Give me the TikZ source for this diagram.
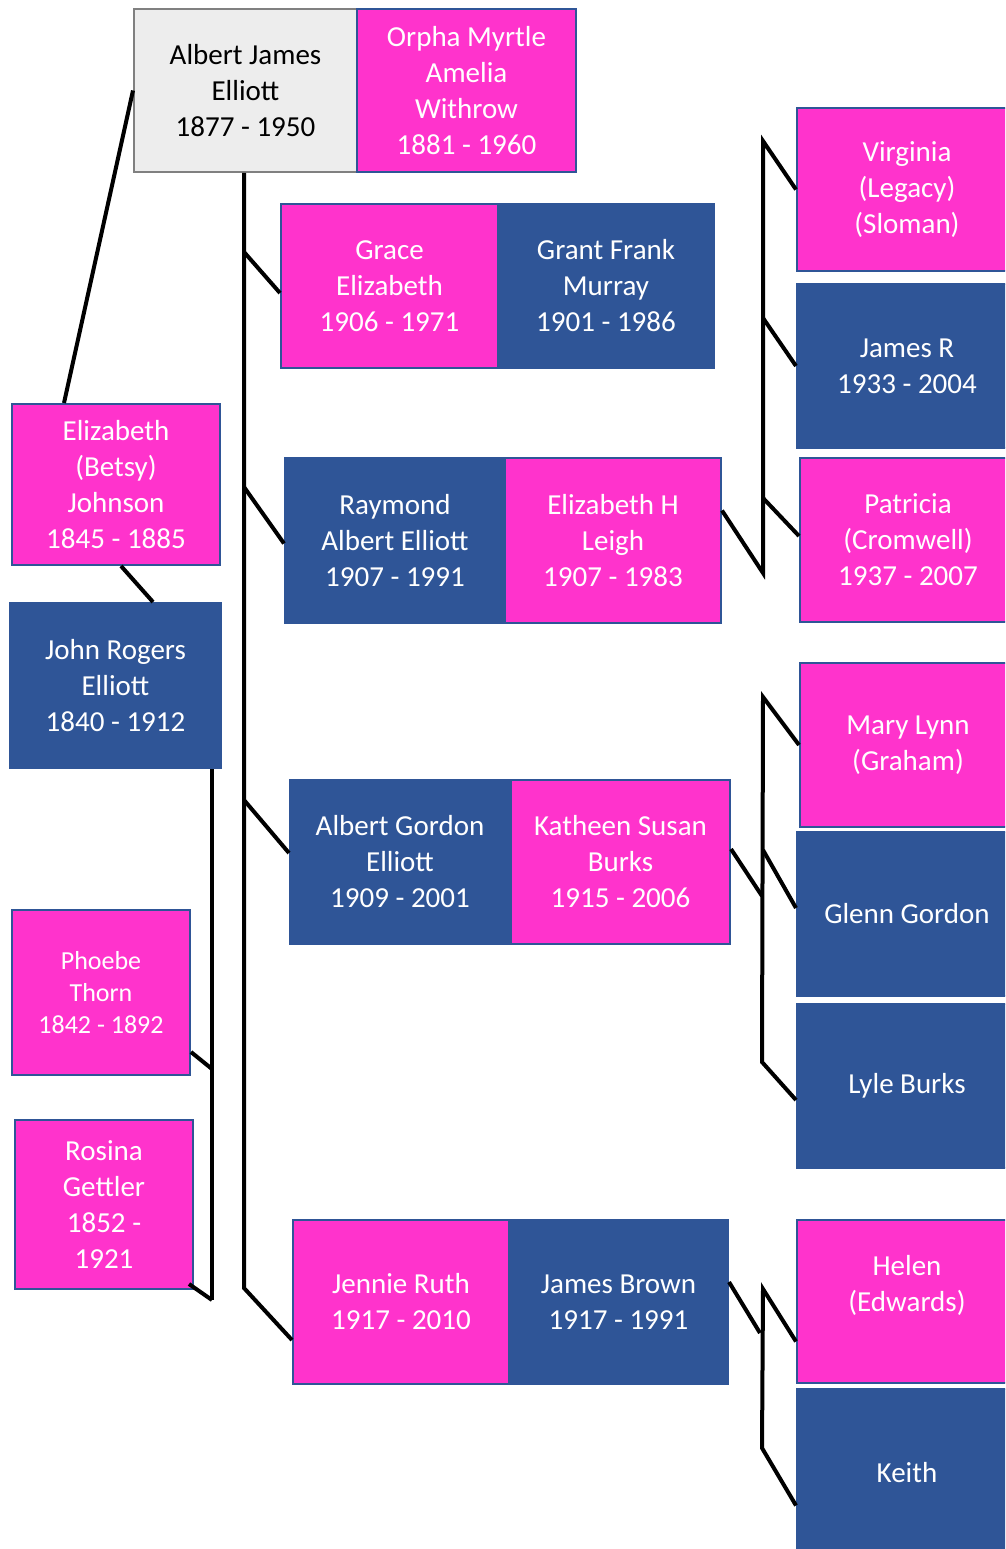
\documentclass[tikz,border=0pt]{standalone}
\usepackage{fontspec}
\setmainfont{Carlito}
\usetikzlibrary{calc}
\definecolor{pk}{HTML}{FF33CC}
\definecolor{bl}{HTML}{2F5597}
\definecolor{gy}{HTML}{EDEDED}
\definecolor{gyb}{HTML}{808080}
\tikzset{
  box/.style={rectangle, inner sep=0pt, align=center, text=white,
    font=\fontsize{29}{36}\selectfont, line width=2pt, draw=bl},
  pinkbox/.style={box, fill=pk},
  bluebox/.style={box, fill=bl},
  graybox/.style={box, fill=gy, draw=gyb, text=black},
  smalltxt/.style={font=\fontsize{26}{32}\selectfont},
  conn/.style={line width=4pt, draw=black},
  plain/.style={inner sep=0pt, align=center, text=white, font=\fontsize{29}{36}\selectfont}
}
\begin{document}
\begin{tikzpicture}[x=1pt,y=-1pt]
\useasboundingbox (0,0) rectangle (1005,1549);
\clip (0,0) rectangle (1005,1549);
\fill[white] (0,0) rectangle (1005,1549);

% top couple
\node[graybox, minimum width=223pt, minimum height=163pt] (albert) at (245.5,90.5) {Albert James\\Elliott\\1877 - 1950};
\node[pinkbox, minimum width=219pt, minimum height=163pt] (orpha) at (466.5,90.5) {Orpha Myrtle\\Amelia\\Withrow\\1881 - 1960};

% children couples
\node[pinkbox, minimum width=217pt, minimum height=164pt] (grace) at (389.5,286) {Grace\\Elizabeth\\1906 - 1971};
\node[bluebox, minimum width=216pt, minimum height=164pt] (grant) at (606,286) {Grant Frank\\Murray\\1901 - 1986};

\node[bluebox, minimum width=220pt, minimum height=165pt] (raymond) at (395,540.5) {Raymond\\Albert Elliott\\1907 - 1991};
\node[pinkbox, minimum width=216pt, minimum height=165pt] (elizh) at (613,540.5) {Elizabeth H\\Leigh\\1907 - 1983};

\node[bluebox, minimum width=220pt, minimum height=164pt] (albertg) at (400,862) {Albert Gordon\\Elliott\\1909 - 2001};
\node[pinkbox, minimum width=219pt, minimum height=164pt] (katheen) at (620.5,862) {Katheen Susan\\Burks\\1915 - 2006};

\node[pinkbox, minimum width=216pt, minimum height=164pt] (jennie) at (401,1302) {Jennie Ruth\\1917 - 2010};
\node[bluebox, minimum width=219pt, minimum height=164pt] (james) at (618.5,1302) {James Brown\\1917 - 1991};

% grandchildren
\node[pinkbox, minimum width=220pt, minimum height=163pt] (virginia) at (907,189.5) {Virginia\\(Legacy)\\(Sloman)};
\node[bluebox, minimum width=220pt, minimum height=164pt] (jamesr) at (907,366) {James R\\1933 - 2004};
\node[pinkbox, minimum width=216pt, minimum height=164pt] (patricia) at (908,540) {Patricia\\(Cromwell)\\1937 - 2007};

\node[pinkbox, minimum width=216pt, minimum height=164pt] (marylynn) at (908,745) {Mary Lynn\\(Graham)};
\node[bluebox, minimum width=220pt, minimum height=164pt] (glenn) at (907,914) {Glenn Gordon};
\node[bluebox, minimum width=220pt, minimum height=164pt] (lyle) at (907,1086) {Lyle Burks};

\node[pinkbox, minimum width=220pt, minimum height=163pt] (helen) at (907,1301.5) {};
\node[plain] (helentxt) at (907,1285) {Helen\\(Edwards)};
\node[bluebox, minimum width=220pt, minimum height=167pt] (keith) at (907,1472.5) {Keith};

% left side ancestors
\node[pinkbox, minimum width=208pt, minimum height=161pt] (betsy) at (116,484.5) {Elizabeth\\(Betsy)\\Johnson\\1845 - 1885};
\node[bluebox, minimum width=211pt, minimum height=165pt] (john) at (115.5,685.5) {John Rogers\\Elliott\\1840 - 1912};
\node[pinkbox, smalltxt, minimum width=178pt, minimum height=165pt] (phoebe) at (101,992.5) {Phoebe\\Thorn\\1842 - 1892};
\node[pinkbox, minimum width=178pt, minimum height=169pt] (rosina) at (104,1204.5) {Rosina\\Gettler\\1852 -\\1921};

% connector coordinates
\coordinate (t1) at (244,252);
\coordinate (t2) at (244,487);
\coordinate (t3) at (244,800);
\coordinate (t4) at (244,1288);
\coordinate (jb) at (212,1300);
\coordinate (pj) at (212,1069);
\coordinate (g1top) at (763,141);
\coordinate (g1bot) at (763,573);
\coordinate (g1m) at (763,318);
\coordinate (g1p) at (763,498);
\coordinate (g2top) at (763,697);
\coordinate (g2bot) at (762,1062);
\coordinate (g2m) at (763,850);
\coordinate (g2k) at (762,896);
\coordinate (g3top) at (763,1289);
\coordinate (g3bot) at (762,1448);
\coordinate (g3j) at (760,1333);

% left connectors
\draw[conn] (albert.west) -- ([xshift=53pt]betsy.north west);
\draw[conn] ([xshift=110pt]betsy.south west) -- ([xshift=144pt]john.north west);
\draw[conn] (john.south -| jb) -- (jb);
\draw[conn] ([yshift=-59.5pt]phoebe.east) -- (pj);
\draw[conn] ([xshift=-5pt,yshift=6pt]rosina.south east) -- (jb);

% trunk
\draw[conn] (albert.south -| t1) -- (t4) -- ([yshift=-38pt]jennie.west);
\draw[conn] (t1) -- ([yshift=-7pt]grace.west);
\draw[conn] (t2) -- ([yshift=-3pt]raymond.west);
\draw[conn] (t3) -- ([yshift=9pt]albertg.west);

% group 1
\draw[conn] ([yshift=30pt]elizh.east) -- (g1bot) -- (g1top) -- (virginia.west);
\draw[conn] (g1m) -- (jamesr.west);
\draw[conn] (g1p) -- ([yshift=4pt]patricia.west);

% group 2
\draw[conn] ([yshift=13pt]katheen.east) -- (g2k);
\draw[conn] (marylynn.west) -- (g2top) -- (g2bot) -- ([yshift=-14pt]lyle.west);
\draw[conn] (g2m) -- ([yshift=6pt]glenn.west);

% group 3
\draw[conn] ([yshift=20pt]james.east) -- (g3j);
\draw[conn] ([yshift=-40pt]helen.west) -- (g3top) -- (g3bot) -- ([yshift=-33pt]keith.west);
\end{tikzpicture}
\end{document}
